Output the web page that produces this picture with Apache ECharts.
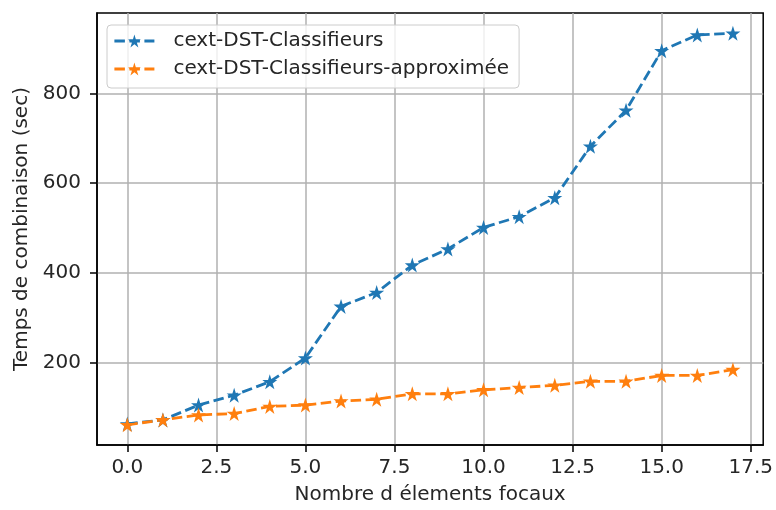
<!DOCTYPE html>
<html>
<head>
<meta charset="utf-8">
<script src="https://cdn.jsdelivr.net/npm/echarts@6/dist/echarts.min.js"></script>
<style>html,body{margin:0;padding:0;background:#fff;}#chart{width:776px;height:510px;}</style>
</head>
<body>
<div id="chart"></div>
<script>
const xValues = [0,1,2,3,4,5,6,7,8,9,10,11,12,13,14,15,16,17];
const exactValues = [63,72,105,127,157,210,325,356,417,453,501,525,567,682,762,895,930,934];
const approxValues = [61,72,83,86,102,105,114,118,130,130,139,144,149,158,158,171,171,184];
const xTicks = [0,2.5,5,7.5,10,12.5,15,17.5];
const yTicks = [200,400,600,800];
const seriesNames = ['cext-DST-Classifieurs','cext-DST-Classifieurs-approximée'];

const STAR = 'path://M50,0 L61.2,34.5 L97.6,34.5 L68.2,55.9 L79.4,90.5 L50,69.1 L20.6,90.5 L31.8,55.9 L2.4,34.5 L38.8,34.5 Z';
const FONT = 'DejaVu Sans';
const FS = 20;

function pairs(ys){ return xValues.map((x,i)=>[x, ys[i]]); }

const chart = echarts.init(document.getElementById('chart'), null, {renderer:'canvas'});
chart.setOption({
  animation:false,
  backgroundColor:'#fff',
  textStyle:{fontFamily:FONT},
  grid:{left:97, right:8, top:13, bottom:60, show:true, borderColor:'#000', borderWidth:1.5, backgroundColor:'transparent'},
  legend:{
    orient:'vertical', left:107, top:25,
    padding:[6,10,9,6], itemGap:8,
    itemWidth:40, itemHeight:16,
    backgroundColor:'rgba(255,255,255,0.8)', borderColor:'#cccccc', borderWidth:1, borderRadius:4,
    lineStyle:{width:2.8},
    textStyle:{fontFamily:FONT, fontSize:FS, color:'#262626', padding:[0,0,0,14]},
    data:seriesNames
  },
  xAxis:{
    type:'value', min:-0.85, max:17.85,
    name:'Nombre d élements focaux', nameLocation:'middle', nameGap:40,
    nameTextStyle:{fontFamily:FONT, fontSize:FS, color:'#262626'},
    axisLine:{show:true, onZero:false, lineStyle:{color:'#000', width:1.5}},
    axisTick:{show:true, inside:false, length:7, customValues:xTicks, lineStyle:{color:'#000', width:1.5}},
    axisLabel:{customValues:xTicks, margin:13, fontFamily:FONT, fontSize:FS, color:'#262626', formatter:v=>v.toFixed(1)},
    splitLine:{show:true, lineStyle:{color:'#b0b0b0', width:1.5}}
  },
  yAxis:{
    type:'value', min:16, max:979,
    name:'Temps de combinaison (sec)', nameLocation:'middle', nameGap:63, nameRotate:90,
    nameTextStyle:{fontFamily:FONT, fontSize:FS, color:'#262626'},
    axisLine:{show:true, onZero:false, lineStyle:{color:'#000', width:1.5}},
    axisTick:{show:true, inside:false, length:7, customValues:yTicks, lineStyle:{color:'#000', width:1.5}},
    axisLabel:{customValues:yTicks, margin:16, fontFamily:FONT, fontSize:FS, color:'#262626'},
    splitLine:{show:true, lineStyle:{color:'#b0b0b0', width:1.5}}
  },
  series:[
    {name:seriesNames[0], type:'line', data:pairs(exactValues), color:'#1f77b4',
     symbol:STAR, symbolSize:15, showAllSymbol:true,
     lineStyle:{width:2.8, type:[10.5,4.5], color:'#1f77b4'},
     itemStyle:{color:'#1f77b4', borderWidth:0}},
    {name:seriesNames[1], type:'line', data:pairs(approxValues), color:'#ff7f0e',
     symbol:STAR, symbolSize:15, showAllSymbol:true,
     lineStyle:{width:2.8, type:[10.5,4.5], color:'#ff7f0e'},
     itemStyle:{color:'#ff7f0e', borderWidth:0}}
  ]
});
</script>
</body>
</html>
